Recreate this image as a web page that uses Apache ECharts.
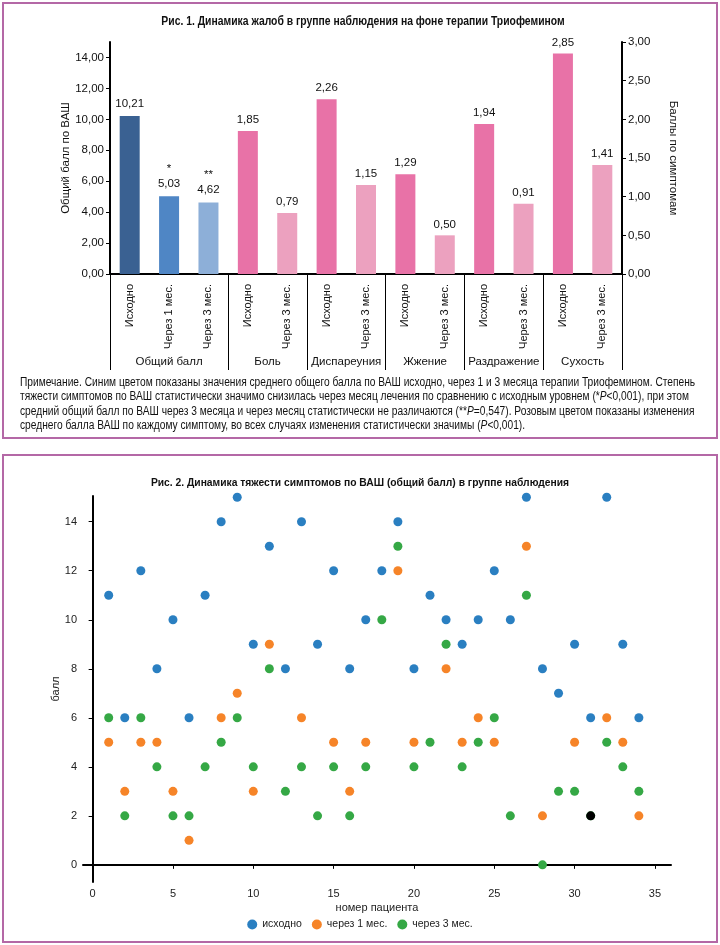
<!DOCTYPE html>
<html>
<head>
<meta charset="utf-8">
<script src="https://cdn.jsdelivr.net/npm/echarts@6/dist/echarts.min.js"></script>
<style>
html,body{margin:0;padding:0;background:#fff;}
#main{width:720px;height:945px;}
</style>
</head>
<body>
<div id="main"></div>
<script>
// ---------- Figure 1 data ----------
const categories = ['Исходно','Через 1 мес.','Через 3 мес.','Исходно','Через 3 мес.','Исходно','Через 3 мес.','Исходно','Через 3 мес.','Исходно','Через 3 мес.','Исходно','Через 3 мес.'];
const groupNames = ['Общий балл','Боль','Диспареуния','Жжение','Раздражение','Сухость'];
const groupSizes = [3,2,2,2,2,2];
const totalScore = [10.21, 5.03, 4.62];
const totalMarks = ['', '*', '**'];
const symptomBefore = [1.85, 2.26, 1.29, 1.94, 2.85];
const symptomAfter3 = [0.79, 1.15, 0.50, 0.91, 1.41];
const leftTicks = [0,2,4,6,8,10,12,14];

// ---------- Figure 2 data ----------
const patients = [1,2,3,4,5,6,7,8,9,10,11,12,13,14,15,16,17,18,19,20,21,22,23,24,25,26,27,28,29,30,31,32,33,34];
const scoreBaseline = [11,6,12,8,10,6,11,14,15,9,13,8,14,9,12,8,10,12,14,8,11,10,9,10,12,10,15,8,7,9,6,15,9,6];
const scoreMonth1  = [5,3,5,5,3,1,null,6,7,3,9,null,6,null,5,3,5,null,12,5,null,8,5,6,5,null,13,2,null,5,null,6,5,2];
const scoreMonth3  = [6,2,6,4,2,2,4,5,6,4,8,3,4,2,4,2,4,10,13,4,5,9,4,5,6,2,11,0,3,3,2,5,4,3];
const overlapPoints = [[31,2]];
const xTicks2 = [0,5,10,15,20,25,30,35];
const yTicks2 = [0,2,4,6,8,10,12,14];
const legendNames = ['исходно','через 1 мес.','через 3 мес.'];

const title1 = 'Рис. 1. Динамика жалоб в группе наблюдения на фоне терапии Триофемином';
const title2 = 'Рис. 2. Динамика тяжести симптомов по ВАШ (общий балл) в группе наблюдения';
const noteLines = [
  'Примечание. Синим цветом показаны значения среднего общего балла по ВАШ исходно, через 1 и 3 месяца терапии Триофемином. Степень',
  'тяжести симптомов по ВАШ статистически значимо снизилась через месяц лечения по сравнению с исходным уровнем (*{i|P}<0,001), при этом',
  'средний общий балл по ВАШ через 3 месяца и через месяц статистически не различаются (**{i|P}=0,547). Розовым цветом показаны изменения',
  'среднего балла ВАШ по каждому симптому, во всех случаях изменения статистически значимы ({i|P}<0,001).'
];

const SANS = "'Liberation Sans', Arial, sans-serif";
const fmt = v => Number(v).toFixed(2).replace('.', ',');

// build bar data
const bar0 = categories.map((c, i) => i < totalScore.length ? totalScore[i] : '-');
const bar1 = categories.map((c, i) => {
  if (i < 3) return '-';
  const k = i - 3;
  return k % 2 === 0 ? symptomBefore[k / 2] : symptomAfter3[(k - 1) / 2];
});
const totalColors = ['#3a6192', '#4f86c5', '#8dafd8'];
const pinkColors = ['#e872a7', '#eca1bf'];

// group centres and boundaries (in category units)
const groupCenters = [];
const groupStarts = [];
let acc = 0;
groupSizes.forEach(s => { groupStarts.push(acc); groupCenters.push(acc + s / 2); acc += s; });

const toPts = arr => patients.map((p, i) => arr[i] == null ? null : [p, arr[i]]).filter(d => d);

const axisBlack = { show: true, lineStyle: { color: '#000', width: 2 } };
const tickBlack = { show: true, length: 4, lineStyle: { color: '#000', width: 1 } };

const chart = echarts.init(document.getElementById('main'), null, { renderer: 'canvas' });
const option = {
  animation: false,
  backgroundColor: '#fff',
  textStyle: { fontFamily: SANS },
  title: [
    { text: title2, left: 'center', top: 473,
      textStyle: { fontFamily: SANS, fontWeight: 'bold', fontSize: 10.3, color: '#111' } }
  ],
  grid: [
    { left: 110, right: 98, top: 42, bottom: 671 },
    { left: 83, right: 49, top: 496, bottom: 63 }
  ],
  legend: {
    data: legendNames, bottom: 10, left: 'center', icon: 'circle', itemWidth: 10, itemHeight: 10, itemGap: 10,
    textStyle: { fontSize: 10.5, color: '#222', fontFamily: SANS }
  },
  xAxis: [
    { type: 'category', gridIndex: 0, data: categories.map((c, i) => String(i)), position: 'bottom',
      axisLine: axisBlack, axisTick: { show: false },
      axisLabel: { rotate: 90, formatter: (v, i) => categories[i], fontSize: 11, color: '#111', margin: 10, fontFamily: SANS } },
    { type: 'category', gridIndex: 0, data: categories.map((c, i) => String(i)), position: 'bottom',
      axisLine: { show: false }, axisLabel: { show: false },
      axisTick: { show: true, length: 96, interval: i => groupStarts.includes(i), lineStyle: { color: '#000', width: 1 } } },
    { type: 'value', gridIndex: 0, min: 0, max: categories.length, position: 'bottom', offset: 76,
      axisLine: { show: false }, axisTick: { show: false }, splitLine: { show: false },
      axisLabel: { customValues: groupCenters, formatter: v => groupNames[groupCenters.indexOf(v)], fontSize: 11.5,
        color: '#111', margin: 6, fontFamily: SANS } },
    { type: 'value', gridIndex: 1, min: -0.6, max: 36, name: 'номер пациента', nameLocation: 'middle', nameGap: 20,
      nameMoveOverlap: false,
      nameTextStyle: { fontSize: 11, color: '#222' },
      axisLine: axisBlack, axisTick: { ...tickBlack, customValues: xTicks2 }, splitLine: { show: false },
      axisLabel: { customValues: xTicks2, fontSize: 11, color: '#222', margin: 6 } }
  ],
  yAxis: [
    { type: 'value', gridIndex: 0, min: 0, max: 15, name: 'Общий балл по ВАШ', nameLocation: 'middle', nameGap: 38,
      nameMoveOverlap: false,
      nameTextStyle: { fontSize: 11.5, color: '#111', fontFamily: SANS },
      axisLine: axisBlack, axisTick: { ...tickBlack, customValues: leftTicks }, splitLine: { show: false },
      axisLabel: { customValues: leftTicks, formatter: fmt, fontSize: 11.5, color: '#111', margin: 6, fontFamily: SANS } },
    { type: 'value', gridIndex: 0, position: 'right', min: 0, max: 3, interval: 0.5, name: 'Баллы по симптомам',
      nameLocation: 'middle', nameGap: 45, nameRotate: -90,
      nameTextStyle: { fontSize: 11.5, color: '#111', fontFamily: SANS },
      axisLine: axisBlack, axisTick: tickBlack, splitLine: { show: false },
      axisLabel: { formatter: fmt, fontSize: 11.5, color: '#111', margin: 6, fontFamily: SANS } },
    { type: 'value', gridIndex: 1, min: -0.7, max: 15.05, name: 'балл', nameLocation: 'middle', nameGap: 22,
      nameMoveOverlap: false,
      nameTextStyle: { fontSize: 11, color: '#222' },
      axisLine: axisBlack, axisTick: { ...tickBlack, customValues: yTicks2 }, splitLine: { show: false },
      axisLabel: { customValues: yTicks2, fontSize: 11, color: '#222', margin: 6 } }
  ],
  series: [
    { type: 'bar', xAxisIndex: 0, yAxisIndex: 0, data: bar0, barWidth: 20, barGap: '-100%',
      itemStyle: { color: p => totalColors[p.dataIndex] },
      label: { show: true, position: 'top', distance: 5, fontSize: 11.5, color: '#111', lineHeight: 15, fontFamily: SANS,
        formatter: p => (totalMarks[p.dataIndex] ? totalMarks[p.dataIndex] + '\n' : '') + fmt(p.value) } },
    { type: 'bar', xAxisIndex: 0, yAxisIndex: 1, data: bar1, barWidth: 20, barGap: '-100%',
      itemStyle: { color: p => pinkColors[(p.dataIndex - 3) % 2] },
      label: { show: true, position: 'top', distance: 5, fontSize: 11.5, color: '#111', fontFamily: SANS,
        formatter: p => fmt(p.value) } },
    { type: 'scatter', name: legendNames[0], xAxisIndex: 3, yAxisIndex: 2, data: toPts(scoreBaseline), symbolSize: 9,
      itemStyle: { color: '#2a7fc1', opacity: 1 } },
    { type: 'scatter', name: legendNames[1], xAxisIndex: 3, yAxisIndex: 2, data: toPts(scoreMonth1), symbolSize: 9,
      itemStyle: { color: '#f68428', opacity: 1 } },
    { type: 'scatter', name: legendNames[2], xAxisIndex: 3, yAxisIndex: 2, data: toPts(scoreMonth3), symbolSize: 9,
      itemStyle: { color: '#35a845', opacity: 1 } },
    { type: 'scatter', name: 'overlap', xAxisIndex: 3, yAxisIndex: 2, data: overlapPoints, symbolSize: 9,
      itemStyle: { color: '#000', opacity: 1 } }
  ],
  graphic: [
    { type: 'rect', shape: { x: 3, y: 3, width: 714, height: 435 }, style: { fill: 'none', stroke: '#b468a6', lineWidth: 2 }, z: 100 },
    { type: 'rect', shape: { x: 3, y: 455, width: 714, height: 487 }, style: { fill: 'none', stroke: '#b468a6', lineWidth: 2 }, z: 100 },
    { type: 'text', x: 363, y: 15, scaleX: 0.83, z: 100,
      style: { text: title1, textAlign: 'center', fontFamily: SANS, fontWeight: 'bold', fontSize: 12.5, fill: '#111' } },
    { type: 'text', x: 20, y: 375, scaleX: 0.85, z: 100,
      style: { text: noteLines.join('\n'), fontFamily: SANS, fontSize: 12, lineHeight: 14.5, fill: '#111',
        rich: { i: { fontStyle: 'italic', fontFamily: SANS, fontSize: 12, fill: '#111' } } } }
  ]
};
chart.setOption(option);
</script>
</body>
</html>
